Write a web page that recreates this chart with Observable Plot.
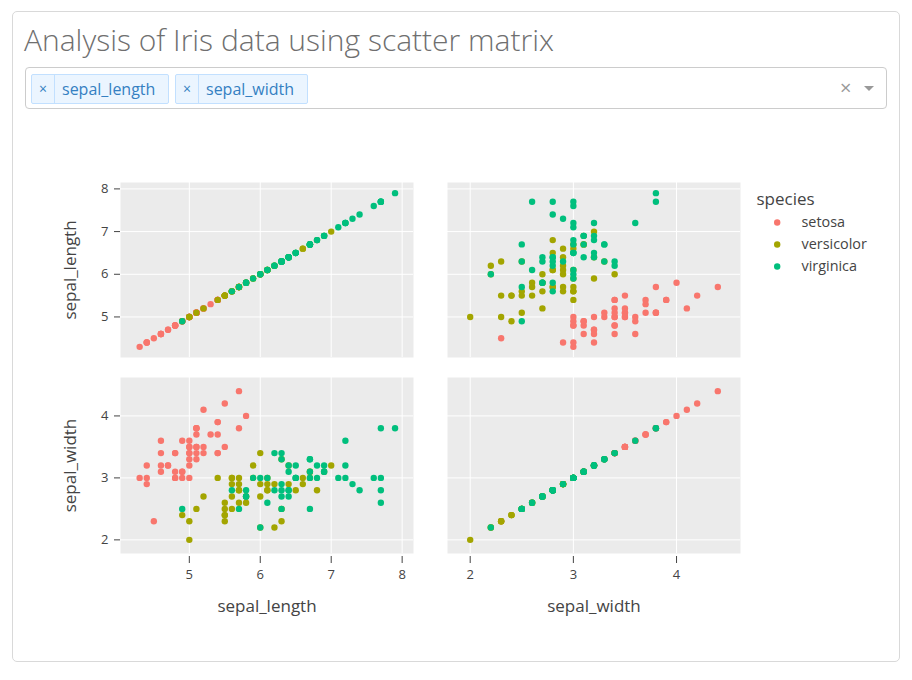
<!DOCTYPE html>
<html>
<head>
<meta charset="utf-8">
<script src="https://cdn.jsdelivr.net/npm/d3@7"></script>
<script src="https://cdn.jsdelivr.net/npm/@observablehq/plot@0.6"></script>
<style>
  html, body { margin: 0; padding: 0; background: #fff; }
  body { width: 912px; height: 680px; position: relative; overflow: hidden; font-family: "Open Sans", sans-serif; }
  .card { position: absolute; left: 12px; top: 11px; width: 888px; height: 651px; box-sizing: border-box;
          border: 1px solid #d9d9d9; border-radius: 5px; }
  .title { position: absolute; left: 24px; top: 20px; font-size: 30px; font-weight: 300; color: #6f6f6f; white-space: nowrap; line-height: 40px; }
  .dropdown { position: absolute; left: 25px; top: 67px; width: 862px; height: 42px; box-sizing: border-box;
              border: 1px solid #ccc; border-radius: 4px; }
  .tag { position: absolute; top: 6px; height: 30px; box-sizing: border-box; background: #ebf5ff; border: 1px solid #c2e0ff;
         border-radius: 2px; color: #3580c2; font-size: 16px; line-height: 28px; display: flex; }
  .tag .x { width: 22px; text-align: center; border-right: 1px solid #c2e0ff; font-size: 14px; }
  .tag .lbl { padding: 0 7px 0 7px; }
  .clear { position: absolute; left: 814px; top: 7px; font-size: 20px; color: #999; line-height: 26px; }
  .arrow { position: absolute; left: 838px; top: 18px; width: 0; height: 0; border-left: 5px solid transparent;
           border-right: 5px solid transparent; border-top: 5px solid #999; }
  .panel { position: absolute; }
</style>
</head>
<body>
<div class="card"></div>
<div class="title">Analysis of Iris data using scatter matrix</div>
<div class="dropdown">
  <div class="tag" style="left:5px;width:138px"><span class="x">×</span><span class="lbl">sepal_length</span></div>
  <div class="tag" style="left:149px;width:133px"><span class="x">×</span><span class="lbl">sepal_width</span></div>
  <div class="clear">×</div>
  <div class="arrow"></div>
</div>
<div id="chart"></div>
<script>
// ---- data (Iris: sepal measurements by species) ----
const species = ["setosa", "versicolor", "virginica"];
const speciesColors = ["#F8766D", "#A3A500", "#00BF7D"];
const dimensions = ["sepal_length", "sepal_width"];

const setosaSepalLength = [5.1,4.9,4.7,4.6,5.0,5.4,4.6,5.0,4.4,4.9,5.4,4.8,4.8,4.3,5.8,5.7,5.4,5.1,5.7,5.1,5.4,5.1,4.6,5.1,4.8,5.0,5.0,5.2,5.2,4.7,4.8,5.4,5.2,5.5,4.9,5.0,5.5,4.9,4.4,5.1,5.0,4.5,4.4,5.0,5.1,4.8,5.1,4.6,5.3,5.0];
const setosaSepalWidth  = [3.5,3.0,3.2,3.1,3.6,3.9,3.4,3.4,2.9,3.1,3.7,3.4,3.0,3.0,4.0,4.4,3.9,3.5,3.8,3.8,3.4,3.7,3.6,3.3,3.4,3.0,3.4,3.5,3.4,3.2,3.1,3.4,4.1,4.2,3.1,3.2,3.5,3.6,3.0,3.4,3.5,2.3,3.2,3.5,3.8,3.0,3.8,3.2,3.7,3.3];
const versicolorSepalLength = [7.0,6.4,6.9,5.5,6.5,5.7,6.3,4.9,6.6,5.2,5.0,5.9,6.0,6.1,5.6,6.7,5.6,5.8,6.2,5.6,5.9,6.1,6.3,6.1,6.4,6.6,6.8,6.7,6.0,5.7,5.5,5.5,5.8,6.0,5.4,6.0,6.7,6.3,5.6,5.5,5.5,6.1,5.8,5.0,5.6,5.7,5.7,6.2,5.1,5.7];
const versicolorSepalWidth  = [3.2,3.2,3.1,2.3,2.8,2.8,3.3,2.4,2.9,2.7,2.0,3.0,2.2,2.9,2.9,3.1,3.0,2.7,2.2,2.5,3.2,2.8,2.5,2.8,2.9,3.0,2.8,3.0,2.9,2.6,2.4,2.4,2.7,2.7,3.0,3.4,3.1,2.3,3.0,2.5,2.6,3.0,2.6,2.3,2.7,3.0,2.9,2.9,2.5,2.8];
const virginicaSepalLength = [6.3,5.8,7.1,6.3,6.5,7.6,4.9,7.3,6.7,7.2,6.5,6.4,6.8,5.7,5.8,6.4,6.5,7.7,7.7,6.0,6.9,5.6,7.7,6.3,6.7,7.2,6.2,6.1,6.4,7.2,7.4,7.9,6.4,6.3,6.1,7.7,6.3,6.4,6.0,6.9,6.7,6.9,5.8,6.8,6.7,6.7,6.3,6.5,6.2,5.9];
const virginicaSepalWidth  = [3.3,2.7,3.0,2.9,3.0,3.0,2.5,2.9,2.5,3.6,3.2,2.7,3.0,2.5,2.8,3.2,3.0,3.8,2.6,2.2,3.2,2.8,2.8,2.7,3.3,3.2,2.8,3.0,2.8,3.0,2.8,3.8,2.8,2.8,2.6,3.0,3.4,3.1,3.0,3.1,3.1,3.1,2.7,3.2,3.3,3.0,2.5,3.0,3.4,3.0];

const sepalLengthTicks = [5, 6, 7, 8];
const sepalWidthTicks = [2, 3, 4];

// ---- build table ----
const lengthsBySpecies = [setosaSepalLength, versicolorSepalLength, virginicaSepalLength];
const widthsBySpecies = [setosaSepalWidth, versicolorSepalWidth, virginicaSepalWidth];
const rows = species.flatMap((s, i) => lengthsBySpecies[i].map((v, j) => ({species: s, sepal_length: v, sepal_width: widthsBySpecies[i][j]})));

const ticks = {sepal_length: sepalLengthTicks, sepal_width: sepalWidthTicks};
const xDomains = {sepal_length: [4.03, 8.16], sepal_width: [1.78, 4.62]};
const yDomains = {sepal_length: [4.05, 8.15], sepal_width: [1.78, 4.62]};

const cols = [
  {left: 0, width: 430, marginLeft: 120, marginRight: 17},
  {left: 430, width: 330, marginLeft: 17, marginRight: 20}
];
const rowsLayout = [
  {top: 160, height: 205, marginTop: 22, marginBottom: 8},
  {top: 365, height: 265, marginTop: 12, marginBottom: 77}
];

const font = "'Open Sans', verdana, arial, sans-serif";
const chart = document.getElementById("chart");
const intFormat = d3.format("d");

function panel(ri, ci) {
  const yKey = dimensions[ri], xKey = dimensions[ci];
  const showX = ri === dimensions.length - 1, showY = ci === 0;
  const c = cols[ci], r = rowsLayout[ri];
  const marks = [
    Plot.frame({fill: "#ebebeb", stroke: "none"}),
    Plot.gridX(ticks[xKey], {stroke: "white", strokeOpacity: 1, strokeWidth: 1}),
    Plot.gridY(ticks[yKey], {stroke: "white", strokeOpacity: 1, strokeWidth: 1}),
    Plot.dot(rows, {x: xKey, y: yKey, fill: "species", r: 3.2, stroke: "none"})
  ];
  if (showX) {
    marks.push(Plot.axisX(ticks[xKey], {tickSize: 7, tickPadding: 6, dy: 3, fontSize: 13, label: null, tickFormat: intFormat}));
    marks.push(Plot.text([xKey], {frameAnchor: "bottom", dy: 58, lineAnchor: "bottom", textAnchor: "middle", fontSize: 17}));
  }
  if (showY) {
    marks.push(Plot.axisY(ticks[yKey], {tickSize: 6, tickPadding: 6, fontSize: 13, label: null, tickFormat: intFormat}));
    marks.push(Plot.text([yKey], {frameAnchor: "left", rotate: -90, dx: -57, lineAnchor: "top", textAnchor: "middle", fontSize: 17}));
  }
  const svg = Plot.plot({
    width: c.width, height: r.height,
    marginLeft: c.marginLeft, marginRight: c.marginRight,
    marginTop: r.marginTop, marginBottom: r.marginBottom,
    style: {fontFamily: font, color: "#444", background: "transparent", overflow: "visible"},
    x: {domain: xDomains[xKey], axis: null},
    y: {domain: yDomains[yKey], axis: null},
    color: {domain: species, range: speciesColors},
    marks
  });
  const wrap = document.createElement("div");
  wrap.className = "panel";
  wrap.style.left = c.left + "px";
  wrap.style.top = r.top + "px";
  wrap.appendChild(svg);
  chart.appendChild(wrap);
}

for (let ri = 0; ri < dimensions.length; ri++)
  for (let ci = 0; ci < dimensions.length; ci++)
    panel(ri, ci);

// ---- legend ----
const legend = Plot.plot({
  width: 150, height: 100,
  marginLeft: 31.7, marginRight: 10, marginTop: 41.7, marginBottom: 13.3,
  style: {fontFamily: font, color: "#444", background: "transparent", overflow: "visible"},
  y: {type: "point", domain: species, axis: null, padding: 0},
  color: {domain: species, range: speciesColors},
  marks: [
    Plot.dot(species, {y: d => d, fill: d => d, r: 3.2, frameAnchor: "left"}),
    Plot.text(species, {y: d => d, text: d => d, frameAnchor: "left", dx: 24.3, textAnchor: "start", fontSize: 14.4, fill: "#444"}),
    Plot.text(["species"], {frameAnchor: "top-left", dx: -20.7, dy: -17.7, lineAnchor: "bottom", textAnchor: "start", fontSize: 17, fill: "#444"})
  ]
});
const lw = document.createElement("div");
lw.className = "panel";
lw.style.left = "745px";
lw.style.top = "180px";
lw.appendChild(legend);
chart.appendChild(lw);
</script>
</body>
</html>
